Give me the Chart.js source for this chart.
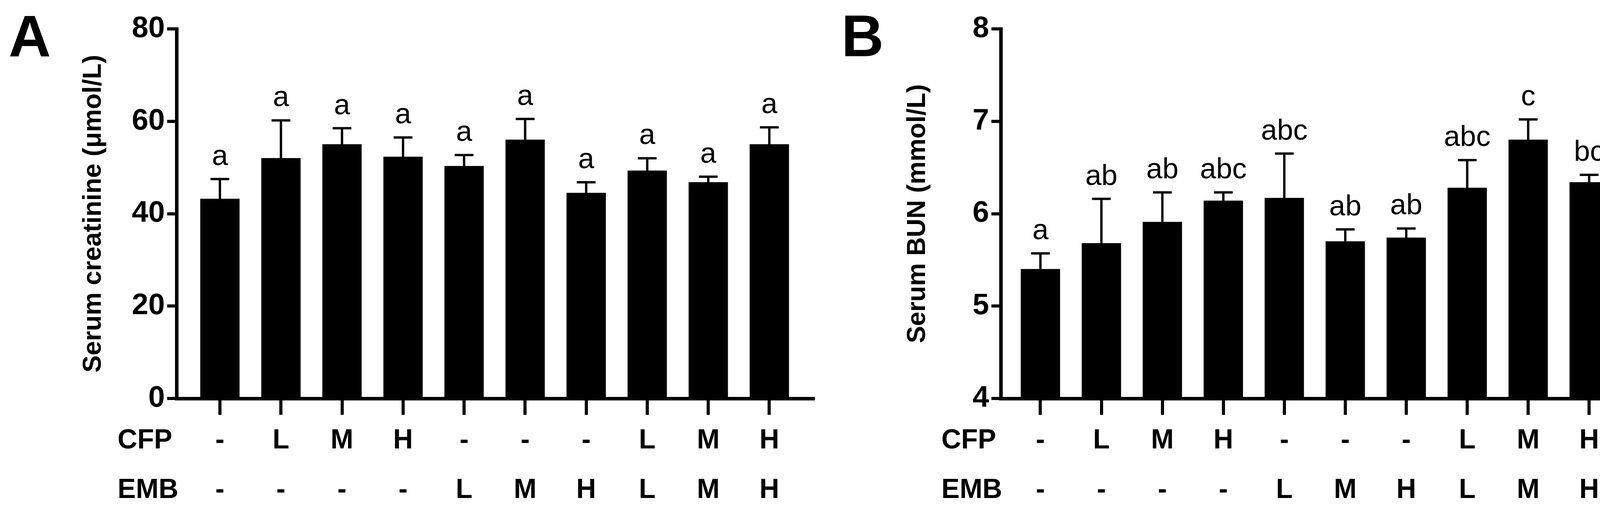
<!DOCTYPE html>
<html>
<head>
<meta charset="utf-8">
<script src="https://cdn.jsdelivr.net/npm/chart.js@4.4.1/dist/chart.umd.min.js"></script>
<style>
  body { margin: 0; background: #fff; width: 4211px; height: 1317px; overflow: hidden; }
  .panel { position: absolute; top: 0; height: 1317px; }
</style>
</head>
<body>
<div class="panel" style="left:0;width:2110px"><canvas id="chartA"></canvas></div>
<div class="panel" style="left:2110px;width:2101px"><canvas id="chartB"></canvas></div>
<script>
const cfpLabels = ["-", "L", "M", "H", "-", "-", "-", "L", "M", "H"];
const embLabels = ["-", "-", "-", "-", "L", "M", "H", "L", "M", "H"];

const creatinine = [43.2, 52.0, 55.0, 52.3, 50.3, 56.0, 44.5, 49.3, 46.8, 55.0];
const creatinineErr = [4.3, 8.2, 3.5, 4.2, 2.4, 4.5, 2.3, 2.7, 1.2, 3.7];
const creatinineLetters = ["a", "a", "a", "a", "a", "a", "a", "a", "a", "a"];

const bun = [5.40, 5.68, 5.91, 6.14, 6.17, 5.70, 5.74, 6.28, 6.80, 6.34];
const bunErr = [0.17, 0.48, 0.32, 0.09, 0.48, 0.13, 0.10, 0.30, 0.22, 0.08];
const bunLetters = ["a", "ab", "ab", "abc", "abc", "ab", "ab", "abc", "c", "bc"];

const FONT = "'Liberation Sans', Arial, sans-serif";

// error bars, significance letters, group rows, panel letter
const extrasPlugin = {
  id: "extras",
  afterDatasetsDraw(chart, args, opts) {
    const ctx = chart.ctx;
    const x = chart.scales.x, y = chart.scales.y;
    ctx.save();
    ctx.strokeStyle = "#000";
    ctx.fillStyle = "#000";
    ctx.lineWidth = 6;
    opts.values.forEach((v, i) => {
      const px = x.getPixelForValue(i);
      const top = y.getPixelForValue(v + opts.errors[i]);
      ctx.beginPath();
      ctx.moveTo(px, y.getPixelForValue(v));
      ctx.lineTo(px, top);
      ctx.moveTo(px - 24, top);
      ctx.lineTo(px + 24, top);
      ctx.stroke();
      ctx.font = "74px " + FONT;
      ctx.textAlign = "center";
      ctx.textBaseline = "alphabetic";
      ctx.fillText(opts.letters[i], px, top - 36);
    });
    ctx.font = "bold 70px " + FONT;
    ctx.textBaseline = "middle";
    ctx.textAlign = "left";
    ctx.fillText("CFP", opts.rowX, 1130);
    ctx.fillText("EMB", opts.rowX, 1257);
    ctx.textAlign = "center";
    cfpLabels.forEach((t, i) => ctx.fillText(t, x.getPixelForValue(i), 1130));
    embLabels.forEach((t, i) => ctx.fillText(t, x.getPixelForValue(i), 1257));
    ctx.font = "bold 150px " + FONT;
    ctx.textAlign = "left";
    ctx.textBaseline = "top";
    ctx.fillText(opts.panel, opts.panelX, 28);
    ctx.restore();
  }
};

function makeChart(id, values, errors, letters, yMin, yMax, step, title, xMin, rightPad, panel, panelX, rowX) {
  const points = values.map((v, i) => ({ x: i, y: v }));
  return new Chart(document.getElementById(id), {
    type: "bar",
    data: {
      datasets: [{
        data: points,
        backgroundColor: "#000",
        borderWidth: 0,
        barThickness: 100,
      }],
    },
    options: {
      responsive: true,
      maintainAspectRatio: false,
      animation: false,
      layout: { padding: { left: 200, right: rightPad, top: 74, bottom: 0 } },
      plugins: {
        legend: { display: false },
        tooltip: { enabled: false },
        extras: { values, errors, letters, panel, panelX, rowX },
      },
      scales: {
        x: {
          type: "linear",
          offset: false,
          min: xMin,
          max: xMin + 10.43,
          afterBuildTicks: (s) => { s.ticks = values.map((v, i) => ({ value: i })); },
          afterFit: (s) => { s.height = 296; },
          ticks: { display: false },
          border: { display: true, color: "#000", width: 9 },
          grid: { offset: false, drawOnChartArea: false, color: "#000", lineWidth: 8, tickLength: 42 },
        },
        y: {
          min: yMin,
          max: yMax,
          afterFit: (s) => { s.width = 252; },
          ticks: { stepSize: step, color: "#000", font: { family: FONT, size: 76, weight: "bold" }, padding: 6 },
          border: { display: true, color: "#000", width: 9 },
          grid: { drawOnChartArea: false, color: "#000", lineWidth: 8, tickLength: 24 },
          title: { display: true, text: title, color: "#000", font: { family: FONT, size: 66, weight: "bold" }, padding: 0 },
        },
      },
    },
    plugins: [extrasPlugin],
  });
}

makeChart("chartA", creatinine, creatinineErr, creatinineLetters, 0, 80, 20,
  "Serum creatinine (μmol/L)", -0.71, 28, "A", 22, 301);
makeChart("chartB", bun, bunErr, bunLetters, 4, 8, 1,
  "Serum BUN (mmol/L)", -0.65, 21, "B", 44, 300);
</script>
</body>
</html>
